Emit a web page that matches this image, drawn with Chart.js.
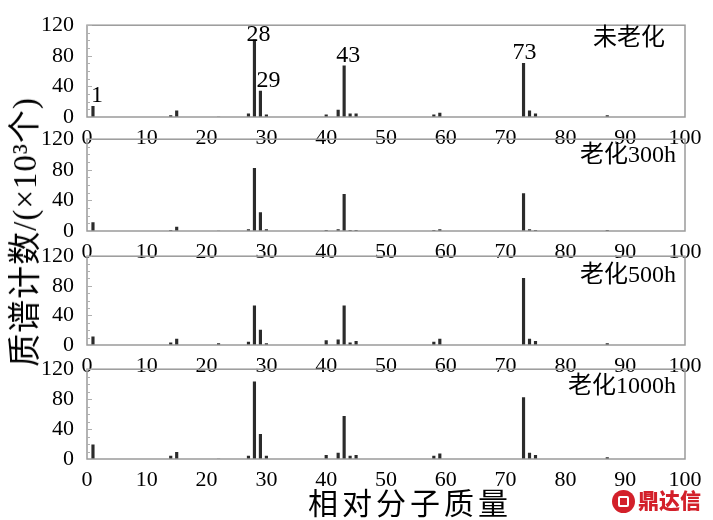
<!DOCTYPE html>
<html>
<head>
<meta charset="utf-8">
<script src="https://cdn.jsdelivr.net/npm/chart.js@4.4.1/dist/chart.umd.min.js"></script>
<style>
    body { margin: 0; background: #fff; }
    #wrap { position: relative; width: 713px; height: 520px; overflow: hidden; font-family: "Liberation Serif", "Noto Sans CJK SC", serif; }
    canvas { position: absolute; left: 0; }
    .ytitle { position: absolute; left: 22px; top: 232px; transform: translate(-50%, -50%) rotate(-90deg); font-size: 33px; letter-spacing: 1px; white-space: nowrap; color: #000; }
    .xtitle { position: absolute; left: 410px; top: 501px; transform: translate(-50%, -50%); font-size: 30px; letter-spacing: 4px; white-space: nowrap; color: #000; }
    .mark { position: absolute; left: 612px; top: 484px; color: #d3202a; font-family: "Noto Sans CJK SC", sans-serif; font-weight: 900; font-size: 21px; white-space: nowrap; }
    .mark span.logo { position: relative; display: inline-block; width: 23px; height: 23px; border-radius: 50%; background: #d3202a; vertical-align: -5px; margin-right: 3px; }
    .mark span.logo::after { content: ""; position: absolute; left: 6px; top: 6px; width: 7px; height: 7px; border: 2px solid #fff; border-radius: 2px; }
</style>
</head>
<body>
<div id="wrap">
    <canvas id="c0"></canvas>
    <canvas id="c1"></canvas>
    <canvas id="c2"></canvas>
    <canvas id="c3"></canvas>
    <div class="ytitle">质谱计数/(×10³个)</div>
    <div class="xtitle">相对分子质量</div>
    <div class="mark"><span class="logo"></span>鼎达信</div>
</div>
<script>
// 数据
const masses = [1, 14, 15, 22, 27, 28, 29, 30, 40, 42, 43, 44, 45, 58, 59, 73, 74, 75, 87];
const unaged = [14, 2, 8, 0, 4, 101, 34, 3, 3, 9, 67, 4, 4, 3, 5, 70, 8, 4, 2];
const aged300 = [11, 1, 5, 0, 2, 82, 24, 2, 1, 2, 48, 1, 1, 1, 2, 49, 2, 1, 1];
const aged500 = [11, 3, 8, 2, 4, 53, 20, 2, 6, 7, 53, 3, 5, 4, 8, 90, 8, 5, 2];
const aged1000 = [19, 4, 9, 0, 4, 103, 33, 4, 5, 8, 57, 4, 5, 4, 7, 82, 8, 5, 2];
const panelTitles = ['未老化', '老化300h', '老化500h', '老化1000h'];
const peakLabels = [1, 28, 29, 43, 73];   // 只标在第一张图上
const xTicks = [0, 10, 20, 30, 40, 50, 60, 70, 80, 90, 100];
const yTicks = [0, 40, 80, 120];

const series = [unaged, aged300, aged500, aged1000];

// 每个面板在页面中的位置
const panelTop = [21, 135, 252, 365];
const panelBottom = [117, 231, 345, 459];
const titleDy = [14, 17, 20, 18];
const padTop = 14;
const xAxisH = 30;
const SERIF = '"Liberation Serif", "Noto Sans CJK SC", serif';

// 边框、内刻度、面板标题、峰标注
const framePlugin = {
    id: 'frame',
    afterDatasetsDraw(chart, args, opts) {
        const { ctx, chartArea: a, scales } = chart;
        ctx.save();
        ctx.strokeStyle = '#9a9a9a';
        ctx.lineWidth = 1.5;
        ctx.strokeRect(a.left, a.top, a.right - a.left, a.bottom - a.top);

        // y 轴次刻度
        ctx.strokeStyle = '#b0b0b0';
        ctx.lineWidth = 1;
        for (let v = 0; v <= 120; v += 10) {
            const y = Math.round(scales.y.getPixelForValue(v)) + 0.5;
            ctx.beginPath();
            ctx.moveTo(a.left, y);
            ctx.lineTo(a.left + (v % 40 === 0 ? 5 : 3), y);
            ctx.stroke();
        }

        ctx.fillStyle = '#000';
        ctx.font = '24px ' + SERIF;
        ctx.textAlign = 'right';
        ctx.textBaseline = 'middle';
        ctx.fillText(opts.title, a.right - (opts.index === 0 ? 20 : 9), a.top + titleDy[opts.index]);

        if (opts.labels) {
            ctx.font = '24px ' + SERIF;
            ctx.textAlign = 'center';
            ctx.textBaseline = 'alphabetic';
            const vals = chart.data.datasets[0].data;
            opts.labels.forEach(m => {
                const p = vals.find(d => d.x === m);
                const x = scales.x.getPixelForValue(m) + (m === 73 ? 1 : 4);
                const y = Math.max(scales.y.getPixelForValue(p.y) - 4, a.top + 16);
                ctx.fillText(String(m), m === 29 ? x + 4 : x, y);
            });
        }
        ctx.restore();
    }
};

const makePanel = (i) => {
    const canvas = document.getElementById('c' + i);
    const h = panelBottom[i] - panelTop[i] + padTop + xAxisH;
    canvas.width = 713;
    canvas.height = h;
    canvas.style.top = (panelTop[i] - padTop) + 'px';

    return new Chart(canvas.getContext('2d'), {
        type: 'bar',
        data: {
            datasets: [{
                data: masses.map((m, k) => ({ x: m, y: series[i][k] })),
                backgroundColor: '#2b2b2b',
                barThickness: 2.5,
                borderWidth: 0
            }]
        },
        plugins: [framePlugin],
        options: {
            responsive: false,
            animation: false,
            devicePixelRatio: 1,
            layout: { padding: { top: padTop, left: 0, right: 28, bottom: 0 } },
            plugins: {
                legend: { display: false },
                tooltip: { enabled: false },
                frame: { title: panelTitles[i], index: i, labels: i === 0 ? peakLabels : null }
            },
            scales: {
                x: {
                    type: 'linear',
                    min: 0,
                    max: 100,
                    offset: false,
                    afterBuildTicks: s => { s.ticks = xTicks.map(v => ({ value: v })); },
                    afterFit: s => { s.height = xAxisH; },
                    grid: { display: false, offset: false },
                    border: { display: false },
                    ticks: { color: '#000', padding: 0, maxRotation: 0, autoSkip: false, font: { family: SERIF, size: 22 } }
                },
                y: {
                    min: 0,
                    max: 120,
                    afterBuildTicks: s => { s.ticks = yTicks.map(v => ({ value: v })); },
                    afterFit: s => { s.width = 87; },
                    grid: { display: false },
                    border: { display: false },
                    ticks: { color: '#000', padding: 5, font: { family: SERIF, size: 22 } }
                }
            }
        }
    });
};

[0, 1, 2, 3].forEach(makePanel);
</script>
</body>
</html>
